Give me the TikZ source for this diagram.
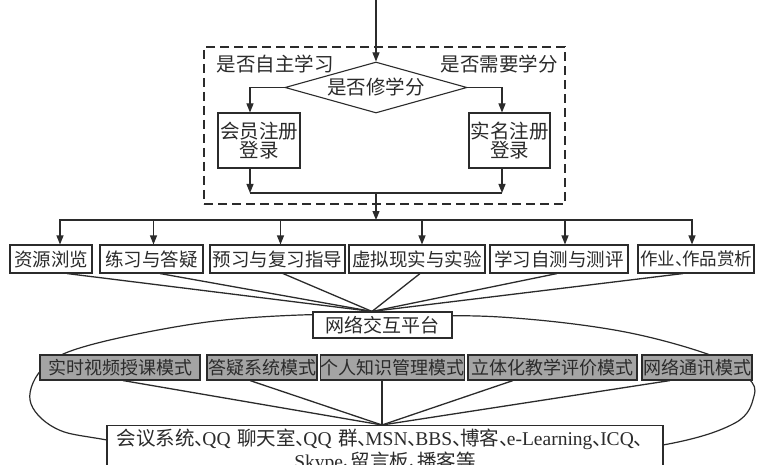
\documentclass[tikz,border=0pt]{standalone}
\usepackage{fontspec}
\setmainfont{Liberation Serif}
\newfontfamily\cjk{Noto Sans CJK SC}
\usetikzlibrary{shapes.geometric,arrows.meta,calc,backgrounds}
\newcommand\dunhao{{\cjk 、}\hspace{-0.6em}}
\definecolor{lc}{HTML}{2B2B2B}
\definecolor{gfill}{HTML}{A4A4A4}
\begin{document}
\begin{tikzpicture}[x=1pt,y=-1pt,
  box/.style={draw=lc, line width=1.1pt, fill=white, inner sep=0pt, text=lc,
    font=\cjk\fontsize{18.5}{20}\selectfont, minimum height=28},
  mode/.style={box, fill=gfill, font=\cjk\fontsize{18}{20}\selectfont, minimum height=25},
  arr/.style={-{Triangle[length=9pt,width=7pt]}, line width=1.1pt, draw=lc},
  ln/.style={line width=1.3pt, draw=lc},
  lab/.style={text=lc, inner sep=0pt, font=\cjk\fontsize{19.5}{20}\selectfont}]
\useasboundingbox (0,0) rectangle (757,465);
\clip (0,0) rectangle (757,465);

% dashed frame
\node[draw=lc, dash pattern=on 9pt off 5pt, line width=1.1pt, minimum width=361, minimum height=157, inner sep=0pt] (frame) at (384.5,125.5) {};

% decision
\node[diamond, draw=lc, line width=1.1pt, aspect=3.57, minimum width=182, minimum height=51, inner sep=0pt, text=lc,
  font=\cjk\fontsize{19.5}{20}\selectfont] (d) at (376,87.5) {是否修学分};
\node[lab] (l1) at (275,64) {是否自主学习};
\node[lab] (l2) at (499,64) {是否需要学分};

\node[box, minimum width=82, minimum height=55, align=center, font=\cjk\fontsize{19.5}{19.5}\selectfont] (lb) at (259,140.5) {会员注册\\登录};
\node[box, minimum width=81, minimum height=55, align=center, font=\cjk\fontsize{19.5}{19.5}\selectfont] (rb) at (509.5,140.5) {实名注册\\登录};

\coordinate (top) at (376,0);
\coordinate (j) at (376,193);
\coordinate (s) at (376,220);
\draw[arr] (top) -- (d.north);
\draw[arr] (d.west) -| ([xshift=-9]lb.north);
\draw[arr] (d.east) -| ([xshift=-7.5]rb.north);
\draw[arr] ([xshift=-9]lb.south) -- ([xshift=-9]lb.south |- j);
\draw[arr] ([xshift=-7.5]rb.south) -- ([xshift=-7.5]rb.south |- j);
\draw[ln, line width=1.1pt] ([xshift=-9]lb.south |- j) -- ([xshift=-7.5]rb.south |- j);
\draw[arr] (j) -- (s);

% function boxes
\node[box, minimum width=82] (b1) at (51,259) {资源浏览};
\node[box, minimum width=103] (b2) at (151.5,259) {练习与答疑};
\node[box, minimum width=135] (b3) at (277.5,259) {预习与复习指导};
\node[box, minimum width=136] (b4) at (417,259) {虚拟现实与实验};
\node[box, minimum width=138] (b5) at (559,259) {学习自测与测评};
\node[box, minimum width=116, font=\cjk\fontsize{17.5}{20}\selectfont] (b6) at (696,259) {作业、\hspace{-0.6em}作品赏析};
\foreach \n/\dx in {b1/9,b2/2,b3/3,b4/5,b5/6,b6/-4}
  \draw[arr] (s) -| ([xshift=\dx]\n.north);

% platform
\node[box, minimum width=139, minimum height=26, font=\cjk\fontsize{19}{20}\selectfont] (p) at (382.5,325) {网络交互平台};
\coordinate (h1) at ([xshift=-10.5]p.north);
\foreach \n/\dx in {b1/16,b2/8.5,b3/5.5,b4/3,b5/-2,b6/-13}
  \draw[ln] ([xshift=\dx]\n.south) -- (h1);

% modes
\node[mode, minimum width=160] (m1) at (120,367.5) {实时视频授课模式};
\node[mode, minimum width=110] (m2) at (262,367.5) {答疑系统模式};
\node[mode, minimum width=141] (m3) at (392.5,367.5) {个人知识管理模式};
\node[mode, minimum width=169] (m4) at (552.5,367.5) {立体化教学评价模式};
\node[mode, minimum width=110] (m5) at (697,367.5) {网络通讯模式};

% bottom box
\node[box, anchor=north, text width=556, inner xsep=0pt, inner ysep=3pt, align=center, minimum height=50,
  font=\fontsize{19.5}{23}\selectfont] (q) at (385,425)
  {{\cjk 会议系统}\dunhao QQ {\cjk 聊天室}\dunhao QQ {\cjk 群}\dunhao MSN\dunhao BBS\dunhao{\cjk 博客}\dunhao e-Learning\dunhao ICQ{\cjk 、}\\
   Skype\dunhao{\cjk 留言板}\dunhao{\cjk 播客等}};
\coordinate (h2) at ([xshift=-3]q.north);
\foreach \n/\dx in {m1/3,m2/-12,m3/-10.5,m4/-39.5,m5/-27}
  \draw[ln] ([xshift=\dx]\n.south) -- (h2);

% big ellipse behind
\begin{scope}[on background layer]
\fill[white] (0,0) rectangle (757,465);
\draw[ln, line width=1.2pt] plot[smooth cycle, tension=0.6] coordinates {
  (382,316) (500,317) (620,331) (713,356) (748,378) (754,396) (735,423) (663,445)
  (520,462) (385,466) (250,462) (107,440) (55,428) (30,400) (45,366) (90,345) (200,323) (300,315)};
\end{scope}
\end{tikzpicture}
\end{document}
